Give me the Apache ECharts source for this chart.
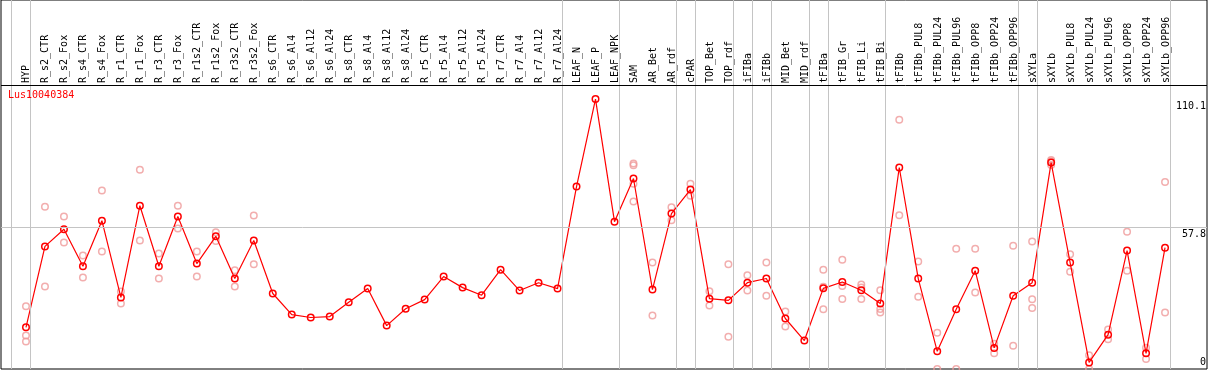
<!DOCTYPE html>
<html>
<head>
<meta charset="utf-8">
<script src="https://cdn.jsdelivr.net/npm/echarts@6/dist/echarts.min.js"></script>
<style>
html,body{margin:0;padding:0;background:#fff;}
#c{width:1209px;height:370px;}
</style>
</head>
<body>
<div id="c"></div>
<script>
const categories = ["HYP","R_s2_CTR","R_s2_Fox","R_s4_CTR","R_s4_Fox","R_r1_CTR","R_r1_Fox","R_r3_CTR","R_r3_Fox","R_r1s2_CTR","R_r1s2_Fox","R_r3s2_CTR","R_r3s2_Fox","R_s6_CTR","R_s6_Al4","R_s6_Al12","R_s6_Al24","R_s8_CTR","R_s8_Al4","R_s8_Al12","R_s8_Al24","R_r5_CTR","R_r5_Al4","R_r5_Al12","R_r5_Al24","R_r7_CTR","R_r7_Al4","R_r7_Al12","R_r7_Al24","LEAF_N","LEAF_P","LEAF_NPK","SAM","AR_Bet","AR_rdf","cPAR","TOP_Bet","TOP_rdf","iFIBa","iFIBb","MID_Bet","MID_rdf","tFIBa","tFIB_Gr","tFIB_Li","tFIB_Bi","tFIBb","tFIBb_PUL8","tFIBb_PUL24","tFIBb_PUL96","tFIBb_OPP8","tFIBb_OPP24","tFIBb_OPP96","sXYLa","sXYLb","sXYLb_PUL8","sXYLb_PUL24","sXYLb_PUL96","sXYLb_OPP8","sXYLb_OPP24","sXYLb_OPP96"];

const meanValues = [17.0,50.0,57.0,41.9,60.5,29.2,66.6,41.9,62.2,43.0,54.1,36.9,52.4,30.8,22.2,21.0,21.4,27.2,32.8,17.7,24.6,28.3,37.7,33.2,30.1,40.5,32.0,35.2,32.8,74.4,110.1,60.1,77.7,32.4,63.4,73.2,28.7,28.0,35.2,36.9,20.6,11.6,32.9,35.5,32.1,26.7,82.2,36.9,7.2,24.4,40.1,8.6,29.9,35.2,84.2,43.4,2.7,14.0,48.3,6.4,49.5];

const replicates = [
  [25.6,13.7,11.2],[66.2,33.7],[62.2,51.6],[46.3,37.3],[72.8,47.9],[31.6,26.7],[81.3,52.4],[47.1,36.9],[66.6,57.3],[47.9,37.7],
  [55.8,52.2],[40.3,33.7],[62.6,42.7],[],[],[],[],[],[],[],
  [],[],[],[],[],[],[],[],[],[],
  [],[],[83.8,83.1,75.6,68.3],[43.4,21.8],[66.0,60.7],[75.6,70.7],[31.7,25.9],[42.7,13.2],[38.2,32.0],[43.4,29.9],
  [23.5,17.3],[],[40.5,33.5,24.4],[44.6,33.9,28.6],[34.5,33.2,28.6],[32.1,24.5,23.0],[101.7,62.7],[43.8,29.5],[14.8,0],[49.1,0],
  [49.1,31.2],[10.3,6.4],[50.3,9.5],[52.0,28.4,24.9],[85.3,84.7,83.2],[46.8,39.7],[5.6,0],[16.1,12.1],[56.0,40.1],[8.7,4.1],
  [76.3,23.0]
];

// last category index of each group (a separator is drawn after it)
const groupEnds = [-1,0,28,31,34,35,37,38,39,41,42,45,52,53,60];

const yTickValues = [0, 57.8, 110.1];
const yMidLine = 57.8;
const headerLineValue = 115.6;
const title = "Lus10040384";

const FONT = "DejaVu Sans Mono";
const meanPoints = meanValues.map((v, i) => [i, v]);
const repPoints = [];
replicates.forEach((arr, i) => arr.forEach(v => repPoints.push([i, v])));

const chart = echarts.init(document.getElementById('c'), null, {renderer: 'canvas'});
chart.setOption({
  animation: false,
  backgroundColor: '#fff',
  title: {
    text: title, left: 8, top: 90, padding: 0,
    textStyle: {color: '#ff0000', fontFamily: FONT, fontSize: 10, fontWeight: 'normal'}
  },
  grid: [
    {left: 1, right: 1, top: 0, bottom: 1, show: true, borderColor: '#000', borderWidth: 1, backgroundColor: 'transparent'},
    {left: 16.5, width: 1159, top: 85, height: 1, show: false}
  ],
  xAxis: [
    {type: 'value', gridIndex: 0, min: -25 / 19, max: 1182 / 19,
     axisLine: {show: false}, axisTick: {show: false}, axisLabel: {show: false}, splitLine: {show: false}},
    {type: 'category', gridIndex: 1, position: 'top', data: categories, boundaryGap: true,
     axisLine: {show: false}, axisTick: {show: false}, splitLine: {show: false},
     axisLabel: {interval: 0, rotate: 90, margin: 2, fontFamily: FONT, fontSize: 10, color: '#000'}}
  ],
  yAxis: [
    {type: 'value', gridIndex: 0, position: 'right', min: 0, max: 369 / 2.4516,
     axisLine: {show: false}, axisTick: {show: false}, splitLine: {show: false},
     axisLabel: {
       inside: true, margin: 1, customValues: yTickValues, verticalAlign: 'middle',
       fontFamily: FONT, fontSize: 10, color: '#000',
       formatter: v => (v === 0 ? '{lo|0}' : '{hi|' + v + '}'),
       rich: {
         lo: {fontFamily: FONT, fontSize: 10, color: '#000', padding: [0, 0, 14, 0]},
         hi: {fontFamily: FONT, fontSize: 10, color: '#000', padding: [14, 0, 0, 0]}
       }
     }},
    {type: 'value', gridIndex: 1, show: false}
  ],
  series: [
    {
      type: 'scatter', xAxisIndex: 0, yAxisIndex: 0, data: repPoints,
      symbol: 'circle', symbolSize: 6.5, z: 2,
      itemStyle: {color: 'rgba(0,0,0,0)', borderColor: '#ef9a9a', borderWidth: 1.5},
      markLine: {
        silent: true, symbol: ['none', 'none'], label: {show: false},
        lineStyle: {color: '#c4c4c4', width: 1, type: 'solid'},
        data: groupEnds.map(g => ({xAxis: g + 0.25})).concat([{yAxis: yMidLine}])
      }
    },
    {
      type: 'line', xAxisIndex: 0, yAxisIndex: 0, data: meanPoints,
      symbol: 'circle', symbolSize: 6.5, showSymbol: true, z: 3,
      lineStyle: {color: '#ff0000', width: 1.2},
      itemStyle: {color: 'rgba(0,0,0,0)', borderColor: '#ff0000', borderWidth: 1.5},
      markLine: {
        silent: true, symbol: ['none', 'none'], label: {show: false},
        lineStyle: {color: '#000', width: 1, type: 'solid'},
        data: [{yAxis: headerLineValue}]
      }
    }
  ]
});
</script>
</body>
</html>
